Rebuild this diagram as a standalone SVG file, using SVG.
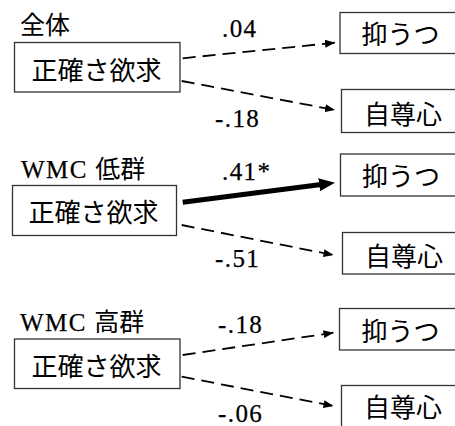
<svg xmlns="http://www.w3.org/2000/svg" width="455" height="426" viewBox="0 0 455 426">
<style>
.box{fill:#fff;stroke:#333;stroke-width:1.3}
.jp{font-family:"Noto Sans CJK JP","Noto Sans",sans-serif;fill:#000}
.big{font-size:26px}
.ttl{font-size:25px}
.lat{font-family:"Liberation Serif","Times New Roman",serif;font-size:25px;fill:#000;letter-spacing:1.4px;stroke:#000;stroke-width:0.25}
.dash{stroke:#000;stroke-width:1.8;fill:none;stroke-dasharray:13 7}
.thick{stroke:#000;stroke-width:5;fill:none}
</style>
<defs>
<marker id="ah" markerUnits="userSpaceOnUse" markerWidth="10" markerHeight="8" refX="10" refY="4" orient="auto">
<path d="M0,0 L10,4 L0,8 z" fill="#000"/>
</marker>
<marker id="ahb" markerUnits="userSpaceOnUse" markerWidth="16" markerHeight="13" refX="2" refY="6.5" orient="auto">
<path d="M0,0 L16,6.5 L0,13 z" fill="#000"/>
</marker>
</defs>
<rect width="455" height="426" fill="#fff"/>

<g id="titles">
<text class="jp ttl" x="20" y="33.5">全体</text>
<text x="21" y="178"><tspan class="lat">WMC </tspan><tspan class="jp ttl">低群</tspan></text>
<text x="20" y="331"><tspan class="lat">WMC </tspan><tspan class="jp ttl">高群</tspan></text>
</g>

<g id="connectors">
<line class="dash" x1="182.7" y1="58.3" x2="335" y2="42.7" marker-end="url(#ah)"/>
<line class="dash" x1="181.7" y1="81" x2="335" y2="110" marker-end="url(#ah)"/>
<line class="thick" x1="182.7" y1="202.3" x2="321.1" y2="184.5" marker-end="url(#ahb)"/>
<line class="dash" x1="181.7" y1="225" x2="333.5" y2="255" marker-end="url(#ah)"/>
<line class="dash" x1="182.7" y1="355" x2="333.5" y2="332.7" marker-end="url(#ah)"/>
<line class="dash" x1="181.7" y1="376.7" x2="333.5" y2="406" marker-end="url(#ah)"/>
</g>

<g id="labels">
<text class="lat" x="222" y="37">.04</text>
<text class="lat" x="215" y="127">-.18</text>
<text class="lat" x="222" y="180">.41*</text>
<text class="lat" x="215" y="267">-.51</text>
<text class="lat" x="218" y="333">-.18</text>
<text class="lat" x="218" y="422">-.06</text>
</g>

<g id="p1-src"><rect class="box" x="14.5" y="42.5" width="165.5" height="49.5"/><text class="jp big" x="96.5" y="80" text-anchor="middle">正確さ欲求</text></g>
<g id="p1-dep"><rect class="box" x="340" y="12.5" width="120" height="41"/><text class="jp big" x="361.5" y="44">抑うつ</text></g>
<g id="p1-est"><rect class="box" x="341.5" y="89.5" width="120" height="43"/><text class="jp big" x="364" y="124">自尊心</text></g>

<g id="p2-src"><rect class="box" x="12.5" y="185.5" width="164" height="50"/><text class="jp big" x="93.5" y="222" text-anchor="middle">正確さ欲求</text></g>
<g id="p2-dep"><rect class="box" x="340.5" y="154" width="120" height="42"/><text class="jp big" x="362" y="186">抑うつ</text></g>
<g id="p2-est"><rect class="box" x="342.5" y="232.5" width="120" height="41.5"/><text class="jp big" x="365" y="266">自尊心</text></g>

<g id="p3-src"><rect class="box" x="14.5" y="339" width="165.5" height="49.5"/><text class="jp big" x="96.5" y="375.5" text-anchor="middle">正確さ欲求</text></g>
<g id="p3-dep"><rect class="box" x="339.5" y="308.5" width="120" height="41.5"/><text class="jp big" x="361.5" y="341">抑うつ</text></g>
<g id="p3-est"><rect class="box" x="341.5" y="385.5" width="120" height="45"/><text class="jp big" x="364" y="416.5">自尊心</text></g>
</svg>
